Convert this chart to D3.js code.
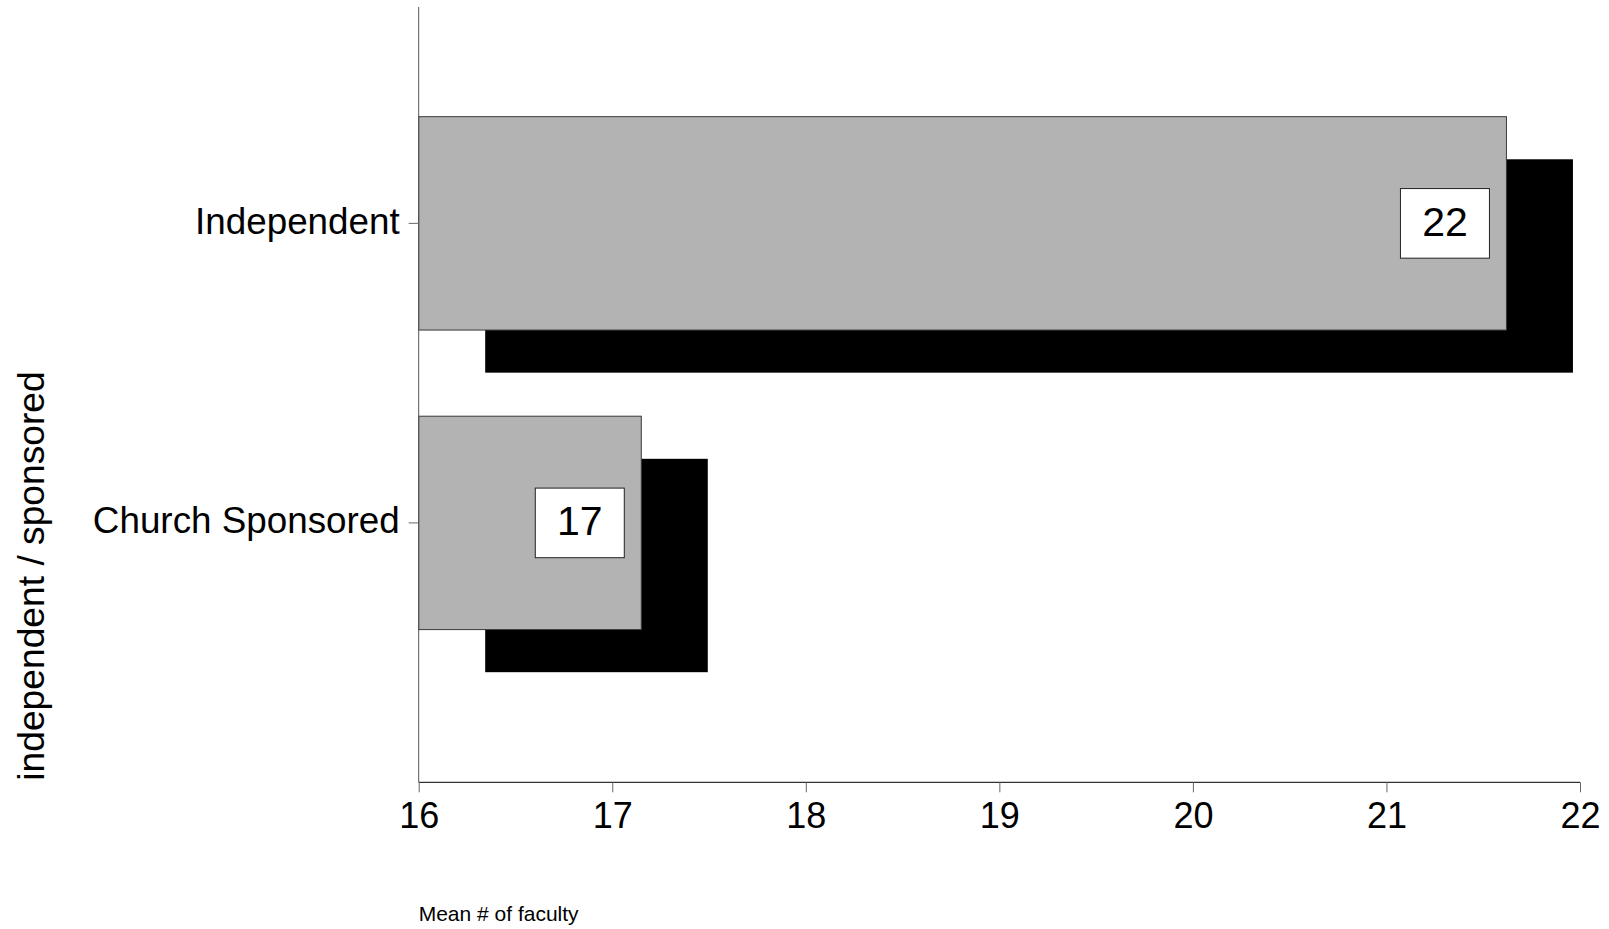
<!DOCTYPE html>
<html>
<head>
<meta charset="utf-8">
<script src="https://cdn.jsdelivr.net/npm/d3@7/dist/d3.min.js"></script>
<style>
  html, body { margin: 0; padding: 0; background: #fff; }
  svg { display: block; font-family: "Liberation Sans", Arial, Helvetica, sans-serif; }
</style>
</head>
<body>
<svg id="chart" width="1609" height="929"></svg>
<script>
// ---- data ----
const categories = ["Independent", "Church Sponsored"];
const meanFaculty = [21.62, 17.15];
const barLabels = ["22", "17"];
const xTicks = [16, 17, 18, 19, 20, 21, 22];
const xDomain = [16, 22];
const xTitle = "Mean # of faculty";
const yTitle = "independent / sponsored";

// ---- layout ----
const svg = d3.select("#chart");
const x0 = 418.7, x1 = 1580, yTop = 7, yBottom = 782.3;
const shadowDx = 66.5, shadowDy = 42.6;

const x = d3.scaleLinear().domain(xDomain).range([x0, x1]);
const y = d3.scaleBand().domain(categories).range([yTop, yBottom])
  .paddingInner(0.2876).paddingOuter(0.438).align(0.418);

const rows = categories.map((c, i) => ({ cat: c, v: meanFaculty[i], label: barLabels[i] }));

// shadows
svg.append("g").selectAll("rect").data(rows).join("rect")
  .attr("x", x(xDomain[0]) + shadowDx)
  .attr("y", d => y(d.cat) + shadowDy)
  .attr("width", d => x(d.v) - x(xDomain[0]))
  .attr("height", y.bandwidth())
  .attr("fill", "#000");

// bars
svg.append("g").selectAll("rect").data(rows).join("rect")
  .attr("x", x(xDomain[0]))
  .attr("y", d => y(d.cat))
  .attr("width", d => x(d.v) - x(xDomain[0]))
  .attr("height", y.bandwidth())
  .attr("fill", "#b3b3b3")
  .attr("stroke", "#3a3a3a")
  .attr("stroke-width", 1);

// label boxes
const boxW = 89, boxH = 69.6, boxInset = 17;
const lg = svg.append("g").selectAll("g").data(rows).join("g")
  .attr("transform", d => `translate(${x(d.v) - boxInset - boxW},${y(d.cat) + y.bandwidth() / 2 - boxH / 2})`);
lg.append("rect")
  .attr("width", boxW).attr("height", boxH)
  .attr("fill", "#fff").attr("stroke", "#222").attr("stroke-width", 1);
lg.append("text")
  .attr("x", boxW / 2).attr("y", boxH / 2 + 12.5)
  .attr("text-anchor", "middle")
  .attr("font-size", 41)
  .attr("fill", "#000")
  .text(d => d.label);

// x axis
const xAxis = svg.append("g")
  .attr("transform", `translate(0,${yBottom})`)
  .call(d3.axisBottom(x).tickValues(xTicks).tickFormat(d3.format("d")).tickSize(10).tickPadding(10));
xAxis.select(".domain").attr("stroke", "#000").attr("d", `M${x0},0H${x1}`);
xAxis.selectAll(".tick line").attr("stroke", "#666");
xAxis.selectAll(".tick text").attr("font-size", 36).attr("fill", "#000")
  .attr("font-family", "'Liberation Sans', Arial, sans-serif");

// y axis
const yAxis = svg.append("g")
  .attr("transform", `translate(${x0},0)`)
  .call(d3.axisLeft(y).tickSize(10).tickPadding(9));
yAxis.select(".domain").attr("stroke", "#555").attr("d", `M0,${yTop}V${yBottom}`);
yAxis.selectAll(".tick line").attr("stroke", "#666");
yAxis.selectAll(".tick text").attr("font-size", 36.8).attr("fill", "#000").attr("dy", "0.28em")
  .attr("font-family", "'Liberation Sans', Arial, sans-serif");

// titles
svg.append("text")
  .attr("x", x0).attr("y", 920.5)
  .attr("font-size", 21).attr("fill", "#000")
  .text(xTitle);

svg.append("text")
  .attr("transform", `translate(44,576) rotate(-90)`)
  .attr("text-anchor", "middle")
  .attr("font-size", 37.2).attr("fill", "#000")
  .text(yTitle);
</script>
</body>
</html>
